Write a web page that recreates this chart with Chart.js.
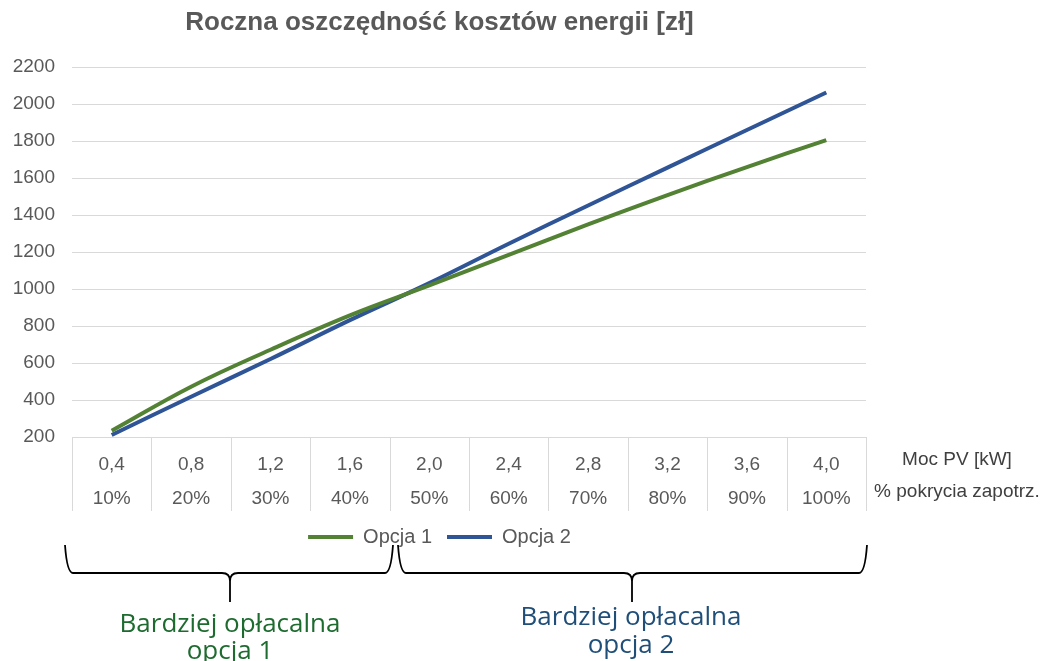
<!DOCTYPE html>
<html>
<head>
<meta charset="utf-8">
<script src="https://cdn.jsdelivr.net/npm/chart.js@4"></script>
<style>
    body { margin: 0; background: #fff; }
    canvas { display: block; }
</style>
</head>
<body>
<canvas id="chart" width="1043" height="661"></canvas>
<script>
let kwLabels = ['0,4', '0,8', '1,2', '1,6', '2,0', '2,4', '2,8', '3,2', '3,6', '4,0'];
let pctLabels = ['10%', '20%', '30%', '40%', '50%', '60%', '70%', '80%', '90%', '100%'];
let opcja1 = [234, 472, 672, 858, 1020, 1185, 1350, 1508, 1660, 1806];
let opcja2 = [211, 418, 622, 832, 1032, 1245, 1452, 1657, 1860, 2063];
let rowTitles = ['Moc PV [kW]', '% pokrycia zapotrz.'];

const GREEN = '#548235';
const BLUE = '#2f5597';
const GRID = '#d9d9d9';
const TEXT = '#595959';

Chart.defaults.font.family = "'Liberation Sans', Arial, sans-serif";

function drawBrace(ctx, x1, x2, xm, yTop, yMid, yTip) {
    const r = 8;
    ctx.beginPath();
    ctx.moveTo(x1, yTop);
    ctx.quadraticCurveTo(x1 + 2, yMid, x1 + r, yMid);
    ctx.lineTo(xm - r, yMid);
    ctx.quadraticCurveTo(xm, yMid, xm, yMid + r);
    ctx.lineTo(xm, yTip);
    ctx.moveTo(xm, yMid + r);
    ctx.quadraticCurveTo(xm, yMid, xm + r, yMid);
    ctx.lineTo(x2 - r, yMid);
    ctx.quadraticCurveTo(x2 - 2, yMid, x2, yTop);
    ctx.stroke();
}

const extras = {
    id: 'extras',
    beforeDatasetsDraw(chart) {
        // table dividers under the category axis
        const ctx = chart.ctx;
        const x = chart.scales.x;
        ctx.save();
        ctx.strokeStyle = GRID;
        ctx.lineWidth = 1;
        for (let i = 0; i <= kwLabels.length; i++) {
            const px = Math.round(x.getPixelForValue(i - 0.5)) + 0.5;
            ctx.beginPath();
            ctx.moveTo(px, x.top);
            ctx.lineTo(px, x.top + 74);
            ctx.stroke();
        }
        ctx.restore();
    },
    afterDraw(chart) {
        const ctx = chart.ctx;
        ctx.save();
        // row titles right of the category table
        ctx.fillStyle = '#404040';
        ctx.font = "19px 'Liberation Sans', Arial, sans-serif";
        ctx.textAlign = 'center';
        ctx.textBaseline = 'middle';
        ctx.fillText(rowTitles[0], 957, 460);
        ctx.fillText(rowTitles[1], 957, 492);

        // braces
        ctx.strokeStyle = '#000';
        ctx.lineWidth = 1.8;
        drawBrace(ctx, 65, 393, 230, 545, 573, 602);
        drawBrace(ctx, 398, 867, 632, 545, 573, 602);

        // annotations
        ctx.font = "26px 'Open Sans', sans-serif";
        ctx.fillStyle = '#1e6b30';
        ctx.fillText('Bardziej opłacalna', 230, 625);
        ctx.fillText('opcja 1', 230, 652);
        ctx.fillStyle = '#1f4e79';
        ctx.fillText('Bardziej opłacalna', 631, 618);
        ctx.fillText('opcja 2', 631, 646);
        ctx.restore();
    }
};

const labels = kwLabels.map((kw, i) => [kw, pctLabels[i]]);

new Chart(document.getElementById('chart').getContext('2d'), {
    type: 'line',
    data: {
        labels: labels,
        datasets: [{
            label: 'Opcja 1',
            data: opcja1,
            borderColor: GREEN,
            backgroundColor: GREEN,
            borderWidth: 4,
            pointRadius: 0,
            tension: 0.4
        }, {
            label: 'Opcja 2',
            data: opcja2,
            borderColor: BLUE,
            backgroundColor: BLUE,
            borderWidth: 4,
            pointRadius: 0,
            tension: 0.4
        }]
    },
    options: {
        responsive: false,
        animation: false,
        layout: {
            padding: { left: 13, right: 177, top: 0, bottom: 104 }
        },
        plugins: {
            title: {
                display: true,
                text: 'Roczna oszczędność kosztów energii [zł]',
                color: TEXT,
                font: { size: 26, weight: 'bold' },
                padding: { top: 7, bottom: 29 }
            },
            legend: {
                position: 'bottom',
                labels: {
                    color: TEXT,
                    font: { size: 20, lineHeight: 1 },
                    usePointStyle: true,
                    pointStyle: 'line',
                    pointStyleWidth: 45,
                    padding: 15
                }
            },
            tooltip: { enabled: false }
        },
        scales: {
            x: {
                offset: true,
                grid: { display: false, drawTicks: false },
                border: { color: GRID },
                ticks: {
                    color: TEXT,
                    font: { size: 19, lineHeight: 1.79 },
                    padding: 11,
                    maxRotation: 0,
                    autoSkip: false
                },
                afterFit: scale => {
                    scale.paddingLeft = 0;
                    scale.paddingRight = 0;
                    scale.height = 75;
                }
            },
            y: {
                min: 200,
                max: 2200,
                grid: { color: GRID, drawTicks: false },
                border: { display: false },
                ticks: {
                    stepSize: 200,
                    color: TEXT,
                    font: { size: 19 },
                    padding: 17,
                    callback: value => String(value)
                },
                afterFit: scale => {
                    scale.width = 59;
                }
            }
        }
    },
    plugins: [extras]
});
</script>
</body>
</html>
